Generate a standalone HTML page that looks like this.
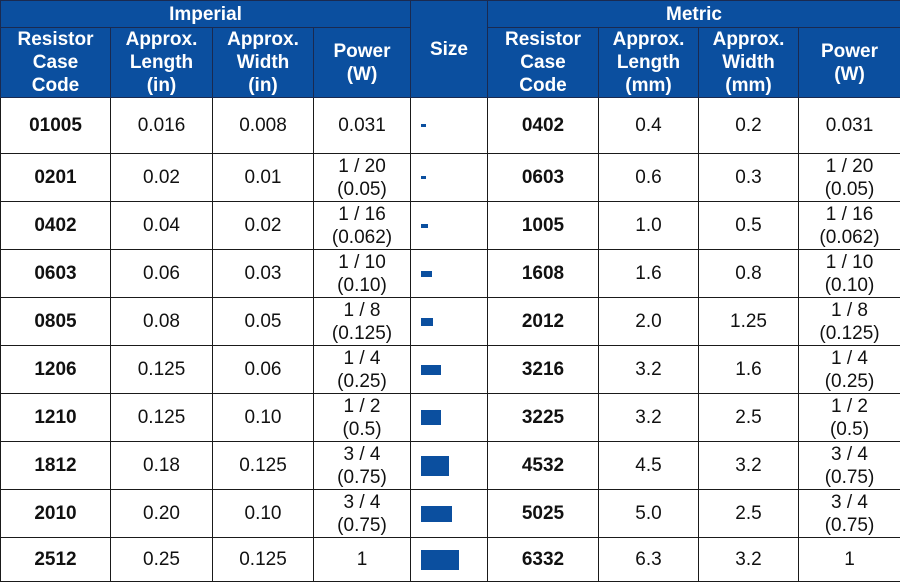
<!DOCTYPE html>
<html><head><style>
html,body{margin:0;padding:0;background:#fff;}
table{border-collapse:collapse;table-layout:fixed;width:900px;font-family:"Liberation Sans",Arial,sans-serif;position:absolute;left:0;top:0;}
td,th{border:1.5px solid #1a1a1a;text-align:center;vertical-align:middle;padding:0;font-size:19px;line-height:23px;color:#111;overflow:hidden;}
th{background:#0b4f9f;color:#fff;font-weight:bold;border-color:#1a2a50;}
td.b{font-weight:bold;}
.r{display:inline-block;background:#0b4f9f;vertical-align:middle;}
td.s{text-align:left;padding-left:10px;}
</style></head><body>
<table>
<colgroup><col style="width:110px"><col style="width:102px"><col style="width:101px"><col style="width:97px"><col style="width:77px"><col style="width:111px"><col style="width:100px"><col style="width:100px"><col style="width:102px"></colgroup>
<tr style="height:27px"><th colspan="4">Imperial</th><th rowspan="2">Size</th><th colspan="4">Metric</th></tr>
<tr style="height:70px"><th>Resistor<br>Case<br>Code</th><th>Approx.<br>Length<br>(in)</th><th>Approx.<br>Width<br>(in)</th><th>Power<br>(W)</th><th>Resistor<br>Case<br>Code</th><th>Approx.<br>Length<br>(mm)</th><th>Approx.<br>Width<br>(mm)</th><th>Power<br>(W)</th></tr>
<tr style="height:56px"><td class="b">01005</td><td>0.016</td><td>0.008</td><td>0.031</td><td class="s"><span class="r" style="width:5px;height:3px"></span></td><td class="b">0402</td><td>0.4</td><td>0.2</td><td>0.031</td></tr>
<tr style="height:48px"><td class="b">0201</td><td>0.02</td><td>0.01</td><td>1 / 20<br>(0.05)</td><td class="s"><span class="r" style="width:5px;height:3px"></span></td><td class="b">0603</td><td>0.6</td><td>0.3</td><td>1 / 20<br>(0.05)</td></tr>
<tr style="height:48px"><td class="b">0402</td><td>0.04</td><td>0.02</td><td>1 / 16<br>(0.062)</td><td class="s"><span class="r" style="width:7px;height:4px"></span></td><td class="b">1005</td><td>1.0</td><td>0.5</td><td>1 / 16<br>(0.062)</td></tr>
<tr style="height:48px"><td class="b">0603</td><td>0.06</td><td>0.03</td><td>1 / 10<br>(0.10)</td><td class="s"><span class="r" style="width:11px;height:6px"></span></td><td class="b">1608</td><td>1.6</td><td>0.8</td><td>1 / 10<br>(0.10)</td></tr>
<tr style="height:48px"><td class="b">0805</td><td>0.08</td><td>0.05</td><td>1 / 8<br>(0.125)</td><td class="s"><span class="r" style="width:12px;height:8px"></span></td><td class="b">2012</td><td>2.0</td><td>1.25</td><td>1 / 8<br>(0.125)</td></tr>
<tr style="height:48px"><td class="b">1206</td><td>0.125</td><td>0.06</td><td>1 / 4<br>(0.25)</td><td class="s"><span class="r" style="width:20px;height:10px"></span></td><td class="b">3216</td><td>3.2</td><td>1.6</td><td>1 / 4<br>(0.25)</td></tr>
<tr style="height:48px"><td class="b">1210</td><td>0.125</td><td>0.10</td><td>1 / 2<br>(0.5)</td><td class="s"><span class="r" style="width:20px;height:15px"></span></td><td class="b">3225</td><td>3.2</td><td>2.5</td><td>1 / 2<br>(0.5)</td></tr>
<tr style="height:48px"><td class="b">1812</td><td>0.18</td><td>0.125</td><td>3 / 4<br>(0.75)</td><td class="s"><span class="r" style="width:28px;height:20px"></span></td><td class="b">4532</td><td>4.5</td><td>3.2</td><td>3 / 4<br>(0.75)</td></tr>
<tr style="height:48px"><td class="b">2010</td><td>0.20</td><td>0.10</td><td>3 / 4<br>(0.75)</td><td class="s"><span class="r" style="width:31px;height:16px"></span></td><td class="b">5025</td><td>5.0</td><td>2.5</td><td>3 / 4<br>(0.75)</td></tr>
<tr style="height:44px"><td class="b">2512</td><td>0.25</td><td>0.125</td><td>1</td><td class="s"><span class="r" style="width:38px;height:20px"></span></td><td class="b">6332</td><td>6.3</td><td>3.2</td><td>1</td></tr>
</table>
</body></html>
